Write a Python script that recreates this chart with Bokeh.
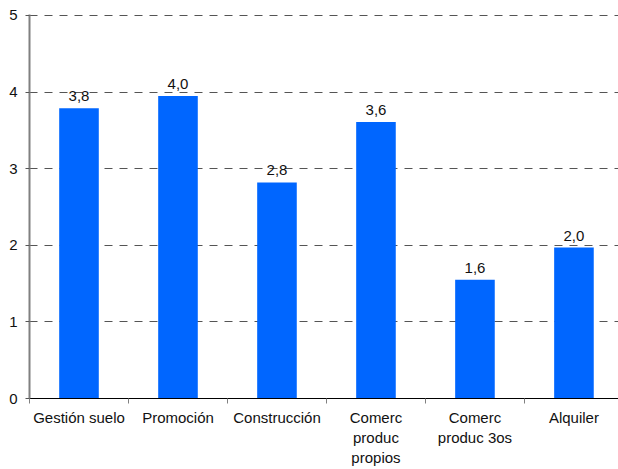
from bokeh.plotting import figure
from bokeh.models import FixedTicker, ColumnDataSource
from bokeh.core.properties import value
from bokeh.embed import file_html
from bokeh.resources import INLINE

categories = ["Gestión suelo", "Promoción", "Construcción", "Comerc\nproduc\npropios", "Comerc\nproduc 3os", "Alquiler"]
values = [3.79, 3.95, 2.82, 3.61, 1.55, 1.97]
value_labels = ["3,8", "4,0", "2,8", "3,6", "1,6", "2,0"]
y_ticks = [0, 1, 2, 3, 4, 5]

n = len(categories)
centers = [i + 0.5 for i in range(n)]
src = ColumnDataSource(dict(x=centers, top=values, lab=value_labels))

FONT = "Liberation Sans"
FS = "15px"

p = figure(width=618, height=469, output_backend="svg", toolbar_location=None,
           x_range=(0, 5.95), y_range=(0, 5.013),
           min_border_left=29, min_border_top=14, min_border_right=0, min_border_bottom=71)
p.outline_line_color = None
p.background_fill_color = "white"
p.border_fill_color = "white"

p.vbar(x="x", top="top", bottom=0, width=0.4, source=src, color="#0066FF", line_color=None)
p.text(x="x", y="top", text="lab", source=src, text_align="center", text_baseline="alphabetic",
       y_offset=-12, text_font=value(FONT), text_font_size=FS, text_color="#111111")

# x axis
xa = p.xaxis[0]
xa.ticker = FixedTicker(ticks=centers, minor_ticks=list(range(0, n + 1)))
xa.major_label_overrides = {c: cat for c, cat in zip(centers, categories)}
xa.major_tick_out = 0
xa.major_tick_in = 0
xa.minor_tick_out = 5
xa.minor_tick_in = 0
xa.minor_tick_line_color = "#808080"
xa.axis_line_color = "black"
xa.axis_line_width = 1
xa.major_label_standoff = 5
xa.major_label_text_font = FONT
xa.major_label_text_font_size = FS
xa.major_label_text_color = "#111111"
xa.major_label_orientation = "horizontal"

# y axis
ya = p.yaxis[0]
ya.ticker = FixedTicker(ticks=y_ticks)
ya.major_tick_out = 4
ya.major_tick_in = 0
ya.major_tick_line_color = "#555555"
ya.minor_tick_line_color = None
ya.axis_line_color = "#808080"
ya.axis_line_width = 2
ya.major_label_standoff = 8
ya.major_label_text_font = FONT
ya.major_label_text_font_size = FS
ya.major_label_text_color = "#111111"

p.xgrid.grid_line_color = None
p.ygrid.ticker = FixedTicker(ticks=y_ticks[1:])
p.ygrid.grid_line_color = "#555555"
p.ygrid.grid_line_dash = "8 7"
p.ygrid.grid_line_width = 1

open("out.html", "w").write(file_html(p, INLINE))
